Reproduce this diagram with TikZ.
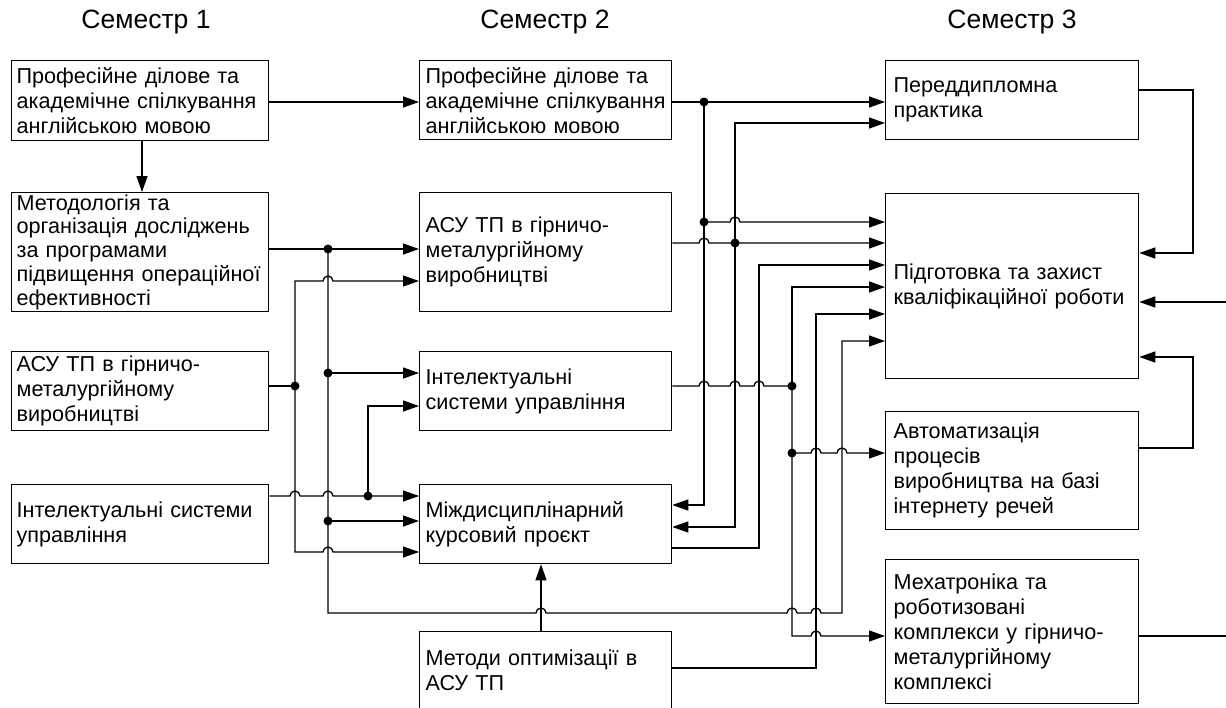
\documentclass[tikz,border=0pt]{standalone}
\usepackage{fontspec}
\setmainfont{Liberation Sans}
\usetikzlibrary{arrows.meta,positioning,calc}

% a small jump of a horizontal line over a vertical one
\newcommand{\hop}[2]{-- ({#1-5},#2) arc[start angle=180,end angle=0,radius=5pt]}

\begin{document}
\begin{tikzpicture}[x=1pt, y=-1pt, line width=1.3pt,
    >={Triangle[length=16pt,width=11pt]},
    box/.style={draw, anchor=north west, align=left,
      inner ysep=0pt, font=\fontsize{21.6}{25}\selectfont},
    col1/.style={box, inner xsep=5pt, text width=247pt, minimum height=#1},
    col2/.style={box, inner xsep=6pt, text width=240pt, minimum height=#1},
    col3/.style={box, inner xsep=8pt, text width=237pt, minimum height=#1},
    dot/.style={circle, fill, inner sep=0pt, minimum size=9pt},
    sem/.style={font=\fontsize{26.5}{30}\selectfont}]
  \useasboundingbox (0,0) rectangle (1226,707);

  \node[sem] (S1) at (146,22) {Семестр 1};
  \node[sem] (S2) at (545,22) {Семестр 2};
  \node[sem] (S3) at (1012,22) {Семестр 3};

  \node[col1=80pt]  (A1) at (11,60)  {Професійне ділове та\\академічне спілкування\\англійською мовою};
  \node[col1=119pt, font=\fontsize{21.6}{23.8}\selectfont] (A2) at (11,192) {Методологія та\\організація досліджень\\за програмами\\підвищення операційної\\ефективності};
  \node[col1=79pt]  (A3) at (11,351) {АСУ ТП в гірничо-\\металургійному\\виробництві};
  \node[col1=79pt]  (A4) at (11,484) {Інтелектуальні системи\\управління};

  \node[col2=79pt]  (B1) at (419,60)  {Професійне ділове та\\академічне спілкування\\англійською мовою};
  \node[col2=119pt] (B2) at (419,192) {АСУ ТП в гірничо-\\металургійному\\виробництві};
  \node[col2=79pt]  (B3) at (419,351) {Інтелектуальні\\системи управління};
  \node[col2=79pt]  (B4) at (419,484) {Міждисциплінарний\\курсовий проєкт};
  \node[col2=78pt]  (B5) at (419,631) {Методи оптимізації в\\АСУ ТП};

  \node[col3=79pt]  (C1) at (885,60)  {Переддипломна\\практика};
  \node[col3=185pt] (C2) at (885,193) {Підготовка та захист\\кваліфікаційної роботи};
  \node[col3=118pt] (C3) at (885,411) {Автоматизація\\процесів\\виробництва на базі\\інтернету речей};
  \node[col3=144pt] (C4) at (885,559) {Мехатроніка та\\роботизовані\\комплекси у гірничо-\\металургійному\\комплексі};

  \coordinate (in2) at (1226,302);
  \coordinate (out4) at (1226,636);

  % semester 1
  \draw[->] (A1.east |- 0,102) -- (B1.west |- 0,102);
  \draw[->] (A1.south -| 142,0) -- (A2.north -| 142,0);
  \draw[->] (A2.east |- 0,249) -- (B2.west |- 0,249);
  \node[dot] at (328,249) {};
  \draw[->] (328,249) -- (328,613) \hop{541}{613} \hop{792}{613} \hop{816}{613}
    -- (842,613) -- (842,341) -- (C2.west |- 0,341);
  \node[dot] at (328,373) {};
  \draw[->] (328,373) -- (B3.west |- 0,373);
  \node[dot] at (328,521) {};
  \draw[->] (328,521) -- (B4.west |- 0,521);

  \draw (A3.east |- 0,386) -- (295,386);
  \node[dot] at (295,386) {};
  \draw[->] (295,386) -- (295,281) \hop{328}{281} -- (B2.west |- 0,281);
  \draw[->] (295,386) -- (295,552) \hop{328}{552} -- (B4.west |- 0,552);

  \draw[->] (A4.east |- 0,496) \hop{295}{496} \hop{328}{496} -- (B4.west |- 0,496);
  \node[dot] at (368,496) {};
  \draw[->] (368,496) -- (368,406) -- (B3.west |- 0,406);

  % semester 2
  \draw[->] (B1.east |- 0,102) -- (C1.west |- 0,102);
  \node[dot] at (704,102) {};
  \draw[->] (704,102) -- (704,505) -- (B4.east |- 0,505);
  \node[dot] at (704,222) {};
  \draw[->] (704,222) \hop{735}{222} -- (C2.west |- 0,222);

  \draw[->] (B2.east |- 0,243) \hop{704}{243} -- (C2.west |- 0,243);
  \node[dot] at (735,243) {};
  \draw[->] (735,243) -- (735,123) -- (C1.west |- 0,123);
  \draw[->] (735,243) -- (735,527) -- (B4.east |- 0,527);

  \draw (B3.east |- 0,386) \hop{704}{386} \hop{735}{386} \hop{759}{386} -- (792,386);
  \node[dot] at (792,386) {};
  \draw[->] (792,386) -- (792,287) -- (C2.west |- 0,287);
  \draw[->] (792,386) -- (792,636) \hop{816}{636} -- (C4.west |- 0,636);
  \node[dot] at (792,453) {};
  \draw[->] (792,453) \hop{816}{453} \hop{842}{453} -- (C3.west |- 0,453);

  \draw[->] (B4.east |- 0,548) -- (759,548) -- (759,265) -- (C2.west |- 0,265);
  \draw[->] (B5.east |- 0,668) -- (816,668) -- (816,314) -- (C2.west |- 0,314);
  \draw[->] (B5.north -| 541,0) -- (B4.south -| 541,0);

  % semester 3
  \draw[->] (C1.east |- 0,90) -- (1193,90) -- (1193,253) -- (C2.east |- 0,253);
  \draw[->] (in2) -- (C2.east |- in2);
  \draw[->] (C3.east |- 0,448) -- (1193,448) -- (1193,357) -- (C2.east |- 0,357);
  \draw (C4.east |- out4) -- (out4);
\end{tikzpicture}
\end{document}
